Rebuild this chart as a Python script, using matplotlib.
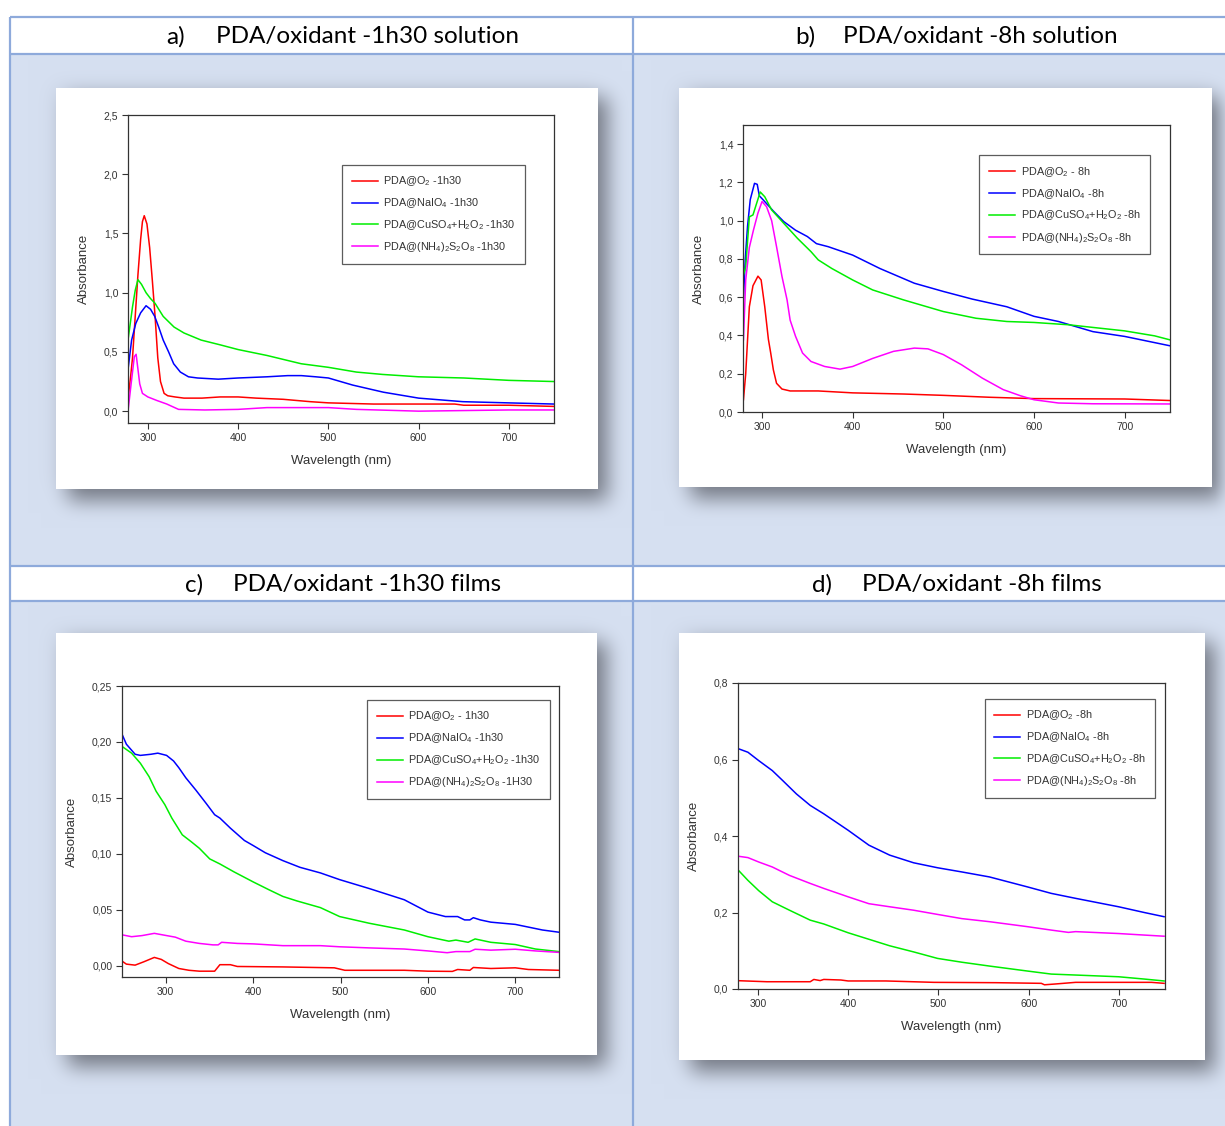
import numpy as np
import matplotlib.pyplot as plt
from matplotlib.ticker import FuncFormatter, MultipleLocator

plt.rcParams['font.family'] = ['Liberation Sans', 'DejaVu Sans']
plt.rcParams['mathtext.fontset'] = 'custom'
plt.rcParams['mathtext.rm'] = 'Liberation Sans'
plt.rcParams['mathtext.it'] = 'Liberation Sans:italic'

# ---- a) solution, 1h30 ----
a_o2_x = [278, 281, 283, 286, 289, 292, 294, 296, 299, 302, 305, 308, 311, 314, 318, 322, 330, 340, 360, 380, 400, 420, 450, 480, 500, 550, 600, 640, 650, 700, 750]
a_o2_y = [0.10, 0.30, 0.45, 0.80, 1.15, 1.45, 1.60, 1.65, 1.58, 1.38, 1.10, 0.80, 0.45, 0.25, 0.15, 0.13, 0.12, 0.11, 0.11, 0.12, 0.12, 0.11, 0.10, 0.08, 0.07, 0.06, 0.06, 0.06, 0.05, 0.05, 0.04]
a_naio4_x = [278, 282, 286.6, 292, 298, 303, 307.6, 312, 317, 323, 328.6, 336, 345, 355, 378, 400, 432, 455, 470, 486, 500, 527, 561, 600, 649, 699, 750]
a_naio4_y = [0.35, 0.60, 0.74, 0.83, 0.89, 0.86, 0.80, 0.71, 0.60, 0.50, 0.40, 0.33, 0.29, 0.28, 0.27, 0.28, 0.29, 0.30, 0.30, 0.29, 0.28, 0.22, 0.16, 0.11, 0.08, 0.07, 0.06]
a_cuso4_x = [278, 283, 286, 289, 293, 298, 303, 308, 317, 329, 340, 359, 380, 400, 432, 470, 500, 531, 560, 600, 650, 700, 750]
a_cuso4_y = [0.60, 0.88, 1.02, 1.11, 1.07, 1.00, 0.95, 0.91, 0.80, 0.71, 0.66, 0.60, 0.56, 0.52, 0.47, 0.40, 0.37, 0.33, 0.31, 0.29, 0.28, 0.26, 0.25]
a_aps_x = [278, 281, 285, 287, 291, 294, 300, 310, 321, 334, 363, 400, 432, 500, 531, 600, 650, 700, 750]
a_aps_y = [0.00, 0.20, 0.46, 0.48, 0.23, 0.15, 0.12, 0.09, 0.06, 0.015, 0.01, 0.015, 0.03, 0.03, 0.015, 0.00, 0.005, 0.01, 0.01]

# ---- b) solution, 8h ----
b_o2_x = [279.5, 282, 286, 290, 295.5, 299, 303, 307, 309.5, 312.5, 316, 322, 331, 362, 400, 456, 500, 551, 600, 700, 750]
b_o2_y = [0.064, 0.20, 0.55, 0.66, 0.71, 0.69, 0.55, 0.38, 0.31, 0.22, 0.15, 0.12, 0.11, 0.11, 0.10, 0.094, 0.087, 0.077, 0.07, 0.068, 0.06]
b_naio4_x = [279.5, 281.5, 284, 287, 291.7, 294.7, 297, 301, 312.5, 324, 337, 350, 360, 373, 400, 430, 468, 500, 532, 570, 600, 627, 665, 700, 750]
b_naio4_y = [0.59, 0.80, 0.97, 1.11, 1.195, 1.19, 1.13, 1.11, 1.05, 0.995, 0.95, 0.917, 0.88, 0.864, 0.82, 0.75, 0.673, 0.63, 0.59, 0.55, 0.50, 0.473, 0.42, 0.395, 0.346]
b_cuso4_x = [279.5, 282, 286, 290, 294, 298, 303, 310.6, 324, 339, 354, 362, 377, 400, 422, 456, 500, 536, 570, 600, 638, 665, 700, 733, 750]
b_cuso4_y = [0.716, 0.76, 1.02, 1.03, 1.09, 1.15, 1.125, 1.056, 0.986, 0.908, 0.838, 0.795, 0.75, 0.69, 0.638, 0.586, 0.525, 0.49, 0.473, 0.468, 0.456, 0.442, 0.424, 0.398, 0.377]
b_aps_x = [279.5, 282, 286, 290.5, 295.5, 300, 305, 310.6, 316, 322, 327.6, 331, 337, 344.7, 354, 369, 386, 400, 422, 445, 468, 483, 500, 520, 543, 566, 585, 600, 627, 665, 750]
b_aps_y = [0.377, 0.69, 0.86, 0.95, 1.04, 1.10, 1.073, 1.00, 0.864, 0.708, 0.586, 0.48, 0.395, 0.308, 0.264, 0.238, 0.224, 0.238, 0.28, 0.317, 0.334, 0.33, 0.30, 0.247, 0.177, 0.117, 0.085, 0.064, 0.047, 0.043, 0.042]

# ---- c) films, 1h30 ----
c_o2_x = [250, 255, 265, 275, 287, 295, 303, 315, 326.6, 338.5, 356, 362, 374, 382, 434, 493, 505, 573, 600, 628, 634, 648, 652, 672, 700, 715, 750]
c_o2_y = [0.0042, 0.0015, 0.0006, 0.0036, 0.0075, 0.0057, 0.002, -0.0024, -0.004, -0.0048, -0.0048, 0.001, 0.001, -0.0006, -0.001, -0.0018, -0.004, -0.004, -0.0048, -0.005, -0.0033, -0.004, -0.0015, -0.0024, -0.0018, -0.0033, -0.004]
c_naio4_x = [250, 255, 265, 271, 283, 291, 301, 309, 315, 323, 334.5, 346.4, 356, 362, 374, 390, 400, 414, 434, 453.6, 477, 499, 533, 573, 600, 620, 634, 642, 648, 652, 660, 672, 700, 731, 750]
c_naio4_y = [0.207, 0.198, 0.189, 0.188, 0.189, 0.190, 0.188, 0.183, 0.177, 0.168, 0.157, 0.145, 0.135, 0.132, 0.123, 0.112, 0.1075, 0.101, 0.094, 0.088, 0.083, 0.077, 0.069, 0.059, 0.048, 0.044, 0.044, 0.041, 0.041, 0.043, 0.041, 0.039, 0.037, 0.032, 0.030]
c_cuso4_x = [250, 261, 271, 281, 289, 299, 307, 319, 329, 338.5, 350.4, 362, 378, 400, 418, 434, 450, 477, 499, 533, 573, 600, 624, 632, 646, 654, 672, 700, 723, 750]
c_cuso4_y = [0.196, 0.190, 0.181, 0.169, 0.156, 0.144, 0.132, 0.117, 0.111, 0.105, 0.0955, 0.091, 0.084, 0.075, 0.068, 0.062, 0.058, 0.052, 0.044, 0.038, 0.032, 0.026, 0.022, 0.023, 0.021, 0.024, 0.021, 0.019, 0.015, 0.0127]
c_aps_x = [250, 261, 273, 287, 301, 311, 323, 338.5, 354, 360, 364, 382, 400, 434, 477, 499, 533, 573, 600, 622, 632, 648, 654, 672, 700, 723, 750]
c_aps_y = [0.0277, 0.026, 0.027, 0.029, 0.027, 0.0256, 0.022, 0.020, 0.0187, 0.0187, 0.021, 0.020, 0.0196, 0.018, 0.018, 0.017, 0.016, 0.015, 0.0133, 0.0117, 0.0127, 0.0127, 0.0148, 0.014, 0.0148, 0.0133, 0.012]

# ---- d) films, 8h ----
d_o2_x = [278.6, 310, 358, 362, 369, 373, 392, 400, 442, 495, 564, 614, 617.5, 629, 652, 736, 750]
d_o2_y = [0.0217, 0.019, 0.019, 0.025, 0.022, 0.025, 0.0235, 0.021, 0.021, 0.0174, 0.0165, 0.0148, 0.011, 0.013, 0.0174, 0.0174, 0.0148]
d_naio4_x = [278.6, 289, 301, 316, 327.5, 342.7, 358, 373, 400, 423, 446, 472.5, 499, 526, 556.5, 598.5, 625, 652, 699.6, 728, 750]
d_naio4_y = [0.628, 0.619, 0.597, 0.571, 0.545, 0.51, 0.48, 0.458, 0.415, 0.376, 0.35, 0.33, 0.317, 0.306, 0.293, 0.267, 0.25, 0.237, 0.215, 0.20, 0.189]
d_cuso4_x = [278.6, 289, 301, 316, 335, 358, 373, 400, 423, 446, 472.5, 499, 526, 556.5, 598.5, 625, 652, 699.6, 728, 750]
d_cuso4_y = [0.31, 0.284, 0.257, 0.228, 0.206, 0.18, 0.17, 0.147, 0.13, 0.113, 0.097, 0.08, 0.07, 0.06, 0.047, 0.039, 0.0365, 0.032, 0.026, 0.021]
d_aps_x = [278.6, 289, 301, 316, 335, 358, 373, 400, 423, 446, 472.5, 499, 526, 556.5, 598.5, 625, 644, 652, 699.6, 728, 750]
d_aps_y = [0.347, 0.3435, 0.332, 0.319, 0.297, 0.276, 0.263, 0.241, 0.223, 0.215, 0.206, 0.195, 0.184, 0.176, 0.163, 0.154, 0.148, 0.15, 0.145, 0.141, 0.138]

series_colors = ['#ff0000', '#0000ff', '#00ee00', '#ff00ff']

W, H = 1225, 1126
CELL = np.array([0xd6, 0xe0, 0xf1]) / 255.0
SHADOW = np.array([0x62, 0x66, 0x70]) / 255.0
LINE = '#8eaadb'

# white plot cards (x0, y0, x1, y1) in pixels
cards = [(56, 88, 598, 489), (679, 88, 1212, 487), (56, 633, 597, 1055), (679, 633, 1205, 1060)]


def box_blur(a, k, passes=3):
    kern = np.ones(k) / k
    for _ in range(passes):
        a = np.apply_along_axis(lambda r: np.convolve(r, kern, mode='same'), 0, a)
        a = np.apply_along_axis(lambda r: np.convolve(r, kern, mode='same'), 1, a)
    return a


# page background: table cells, drop shadows, white cards
img = np.ones((H, W, 3))
img[54:566, 10:] = CELL
img[601:, 10:] = CELL
mask = np.zeros((H, W))
for x0, y0, x1, y1 in cards:
    mask[y0 + 10:y1 + 12, x0 + 12:x1 + 10] = 1.0
mask = box_blur(mask, 19)
halo = np.zeros((H, W))
for x0, y0, x1, y1 in cards:
    halo[y0 - 4:y1, x0 - 4:x1] = 1.0
halo = box_blur(halo, 25, passes=2)
alpha = np.clip(mask * 0.78 + halo * 0.08, 0, 1)[..., None]
cell_mask = np.zeros((H, W), bool)
cell_mask[54:566, 10:] = True
cell_mask[601:, 10:] = True
img = np.where(cell_mask[..., None], img * (1 - alpha) + SHADOW * alpha, img)
for x0, y0, x1, y1 in cards:
    img[y0:y1, x0:x1] = 1.0

fig = plt.figure(figsize=(W / 100, H / 100), dpi=100)
bg = fig.add_axes([0, 0, 1, 1], zorder=-5)
bg.imshow(img, extent=(0, W, H, 0), interpolation='bilinear')
bg.set_xlim(0, W)
bg.set_ylim(H, 0)
bg.axis('off')

# table rules
for y in (17, 54, 566, 601):
    bg.plot([10, W], [y, y], color=LINE, lw=1.6, solid_capstyle='butt')
for x in (10, 633):
    bg.plot([x, x], [17, H], color=LINE, lw=1.6, solid_capstyle='butt')

title_font = dict(fontfamily='Lato', fontsize=17.5, va='center', color='black')
bg.text(166, 37, 'a)', **title_font)
bg.text(216, 37, 'PDA/oxidant -1h30 solution', **title_font)
bg.text(795, 37, 'b)', **title_font)
bg.text(843, 37, 'PDA/oxidant -8h solution', **title_font)
bg.text(185, 585, 'c)', **title_font)
bg.text(233, 585, 'PDA/oxidant -1h30 films', **title_font)
bg.text(812, 585, 'd)', **title_font)
bg.text(862, 585, 'PDA/oxidant -8h films', **title_font)


def sub(s):
    return r'$\mathregular{_{%s}}$' % s


def make_axes(l, t, r, b):
    return fig.add_axes([l / W, 1 - b / H, (r - l) / W, (b - t) / H])


def style(ax, xlim, ylim, ystep, ydec, leg_labels, leg_anchor):
    ax.set_xlim(*xlim)
    ax.set_ylim(*ylim)
    ax.xaxis.set_major_locator(MultipleLocator(100))
    ax.yaxis.set_major_locator(MultipleLocator(ystep))
    ax.yaxis.set_major_formatter(FuncFormatter(lambda v, p: f'{v:.{ydec}f}'.replace('.', ',').replace('-0,', '0,')))
    ax.tick_params(direction='out', length=4, width=0.8, colors='#333333', labelsize=7.5, pad=3)
    for sp in ax.spines.values():
        sp.set_color('#333333')
        sp.set_linewidth(0.9)
    ax.set_xlabel('Wavelength (nm)', fontsize=9.5, color='#333333', labelpad=9)
    ax.set_ylabel('Absorbance', fontsize=9.5, color='#333333', labelpad=10)
    ax.set_facecolor('white')
    for ln, lab in zip(ax.get_lines(), leg_labels):
        ln.set_label(lab)
    leg = ax.legend(loc='upper right', bbox_to_anchor=leg_anchor, fontsize=7.8, frameon=True,
                    fancybox=False, edgecolor='#333333', handlelength=2.4, labelspacing=0.75,
                    borderpad=0.9, handletextpad=0.5, borderaxespad=0)
    leg.get_frame().set_linewidth(0.9)
    for t in leg.get_texts():
        t.set_color('#333333')


def draw(ax, xs, ys):
    for x, y, c in zip(xs, ys, series_colors):
        ax.plot(x, y, color=c, lw=1.1)


# a)
ax = make_axes(128, 115, 554, 423)
draw(ax, [a_o2_x, a_naio4_x, a_cuso4_x, a_aps_x], [a_o2_y, a_naio4_y, a_cuso4_y, a_aps_y])
style(ax, (278, 750), (-0.1, 2.5), 0.5, 1,
      ['PDA@O' + sub(2) + ' -1h30', 'PDA@NaIO' + sub(4) + ' -1h30',
       'PDA@CuSO' + sub(4) + '+H' + sub(2) + 'O' + sub(2) + ' -1h30',
       'PDA@(NH' + sub(4) + ')' + sub(2) + 'S' + sub(2) + 'O' + sub(8) + ' -1h30'],
      (0.932, 0.838))

# b)
ax = make_axes(743, 125, 1170, 412)
draw(ax, [b_o2_x, b_naio4_x, b_cuso4_x, b_aps_x], [b_o2_y, b_naio4_y, b_cuso4_y, b_aps_y])
style(ax, (279, 750), (0, 1.5), 0.2, 1,
      ['PDA@O' + sub(2) + ' - 8h', 'PDA@NaIO' + sub(4) + ' -8h',
       'PDA@CuSO' + sub(4) + '+H' + sub(2) + 'O' + sub(2) + ' -8h',
       'PDA@(NH' + sub(4) + ')' + sub(2) + 'S' + sub(2) + 'O' + sub(8) + ' -8h'],
      (0.953, 0.895))

# c)
ax = make_axes(122, 686, 559, 977)
draw(ax, [c_o2_x, c_naio4_x, c_cuso4_x, c_aps_x], [c_o2_y, c_naio4_y, c_cuso4_y, c_aps_y])
style(ax, (250, 750), (-0.01, 0.25), 0.05, 2,
      ['PDA@O' + sub(2) + ' - 1h30', 'PDA@NaIO' + sub(4) + ' -1h30',
       'PDA@CuSO' + sub(4) + '+H' + sub(2) + 'O' + sub(2) + ' -1h30',
       'PDA@(NH' + sub(4) + ')' + sub(2) + 'S' + sub(2) + 'O' + sub(8) + ' -1H30'],
      (0.979, 0.952))

# d)
ax = make_axes(738, 683, 1165, 989)
draw(ax, [d_o2_x, d_naio4_x, d_cuso4_x, d_aps_x], [d_o2_y, d_naio4_y, d_cuso4_y, d_aps_y])
style(ax, (278, 751), (0, 0.8), 0.2, 1,
      ['PDA@O' + sub(2) + ' -8h', 'PDA@NaIO' + sub(4) + ' -8h',
       'PDA@CuSO' + sub(4) + '+H' + sub(2) + 'O' + sub(2) + ' -8h',
       'PDA@(NH' + sub(4) + ')' + sub(2) + 'S' + sub(2) + 'O' + sub(8) + ' -8h'],
      (0.977, 0.948))

fig.savefig('out.png', dpi=100)
